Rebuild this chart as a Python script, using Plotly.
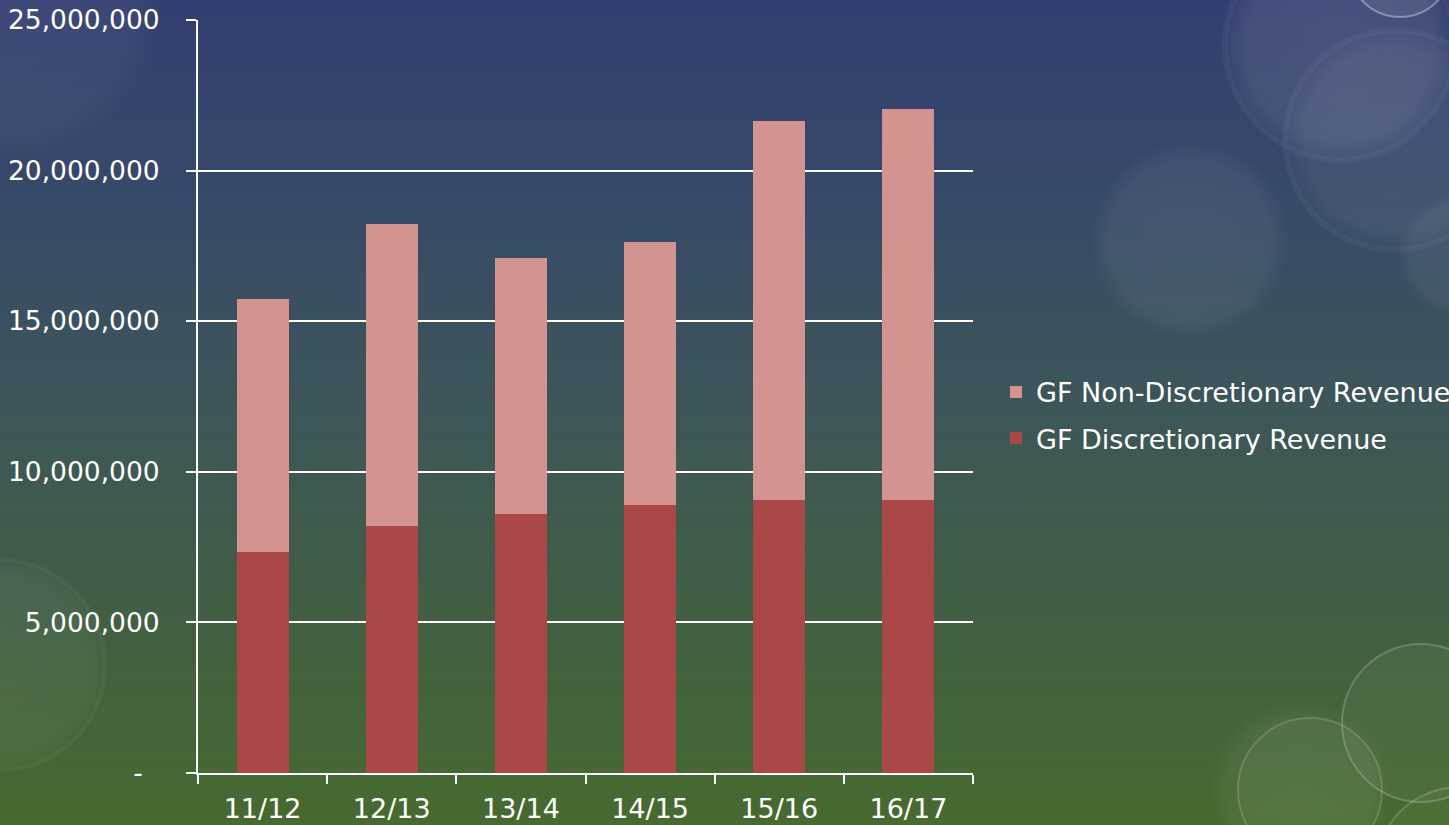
import base64
import plotly.graph_objects as go

# Fiscal years and General Fund revenue (dollars)
years = ["11/12", "12/13", "13/14", "14/15", "15/16", "16/17"]
discretionary = [7_340_000, 8_200_000, 8_600_000, 8_890_000, 9_050_000, 9_050_000]
non_discretionary = [8_390_000, 10_030_000, 8_510_000, 8_750_000, 12_610_000, 12_980_000]

y_ticks = [0, 5_000_000, 10_000_000, 15_000_000, 20_000_000, 25_000_000]
y_labels = ["-\u00a0\u00a0", "5,000,000", "10,000,000", "15,000,000", "20,000,000", "25,000,000"]

W, H = 1449, 825
ML, MR, MT, MB = 198, 476, 20, 52
FONT = "DejaVu Sans"

# ---- slide-style background: vertical blue-to-green gradient with soft bokeh circles ----
def bokeh_disc(cx, cy, r, a):
    return (f'<circle cx="{cx}" cy="{cy}" r="{r}" fill="url(#soft)" opacity="{a}"/>')

def bokeh_ring(cx, cy, r, a, w=3):
    return (f'<circle cx="{cx}" cy="{cy}" r="{r}" fill="white" fill-opacity="{a*0.2}" '
            f'stroke="white" stroke-opacity="{a}" stroke-width="{w}"/>')

decor = [
    bokeh_disc(10, 10, 150, 0.09),
    bokeh_disc(1340, 45, 118, 0.17),
    bokeh_disc(1395, 140, 112, 0.12),
    bokeh_disc(1190, 240, 100, 0.12),
    bokeh_disc(1460, 255, 62, 0.12),
    bokeh_disc(0, 665, 110, 0.08),
    bokeh_disc(1300, 790, 90, 0.1),
    bokeh_ring(1400, -35, 52, 0.35, 2),
    bokeh_ring(1340, 45, 115, 0.04, 6),
    bokeh_ring(1395, 140, 110, 0.04, 6),
    bokeh_ring(0, 665, 105, 0.035, 4),
    bokeh_ring(1421, 723, 79, 0.2, 2),
    bokeh_ring(1310, 790, 72, 0.16, 2),
    bokeh_ring(1460, 872, 85, 0.18, 2),
]

svg = f'''<svg xmlns="http://www.w3.org/2000/svg" width="{W}" height="{H}" viewBox="0 0 {W} {H}">
<defs>
<linearGradient id="bg" x1="0" y1="0" x2="0" y2="1">
<stop offset="0" stop-color="#333e71"/>
<stop offset="0.25" stop-color="#374a68"/>
<stop offset="0.5" stop-color="#3d5658"/>
<stop offset="0.75" stop-color="#425f43"/>
<stop offset="1" stop-color="#476a2f"/>
</linearGradient>
<radialGradient id="soft">
<stop offset="0" stop-color="white" stop-opacity="0.55"/>
<stop offset="0.8" stop-color="white" stop-opacity="0.45"/>
<stop offset="1" stop-color="white" stop-opacity="0"/>
</radialGradient>
</defs>
<rect width="{W}" height="{H}" fill="url(#bg)"/>
{''.join(decor)}
</svg>'''
bg_uri = "data:image/svg+xml;base64," + base64.b64encode(svg.encode()).decode()

pw, ph = W - ML - MR, H - MT - MB

fig = go.Figure()
fig.add_trace(go.Bar(
    x=years, y=discretionary, name="GF Discretionary Revenue",
    marker=dict(color="#a94846", line=dict(width=0)),
    legendgroup="a", legendrank=2,
))
fig.add_trace(go.Bar(
    x=years, y=non_discretionary, name="GF Non-Discretionary Revenue",
    marker=dict(color="#d39391", line=dict(width=0)),
    legendgroup="b", legendrank=1,
))

fig.update_layout(
    width=W, height=H,
    margin=dict(l=ML, r=MR, t=MT, b=MB, pad=0, autoexpand=False),
    barmode="stack", bargap=0.597,
    paper_bgcolor="#3d5658", plot_bgcolor="rgba(0,0,0,0)",
    font=dict(family=FONT, size=27, color="white"),
    showlegend=True,
    legend=dict(
        x=(996 - ML) / pw, xanchor="left", y=0.475, yanchor="middle",
        traceorder="grouped", tracegroupgap=8,
        bgcolor="rgba(0,0,0,0)", font=dict(family=FONT, size=27, color="white"),
    ),
    images=[dict(
        source=bg_uri, xref="paper", yref="paper",
        x=-ML / pw, y=1 + MT / ph, sizex=W / pw, sizey=H / ph,
        xanchor="left", yanchor="top", sizing="stretch", layer="below",
    )],
)

fig.update_xaxes(
    automargin=False,
    showgrid=False, showline=True, linecolor="white", linewidth=2,
    ticks="outside", tickson="boundaries", ticklen=9, tickwidth=2, tickcolor="white",
    ticklabelstandoff=11,
    tickfont=dict(family=FONT, size=27, color="white"),
)
fig.update_yaxes(
    automargin=False,
    range=[0, 25_000_000], tickvals=y_ticks, ticktext=y_labels,
    showgrid=True, gridcolor="white", gridwidth=2,
    showline=True, linecolor="white", linewidth=2,
    ticks="outside", ticklen=10, tickwidth=2, tickcolor="white",
    ticklabelstandoff=21,
    tickfont=dict(family=FONT, size=26.5, color="white"),
    zeroline=False,
)

fig.write_html("out.html")
